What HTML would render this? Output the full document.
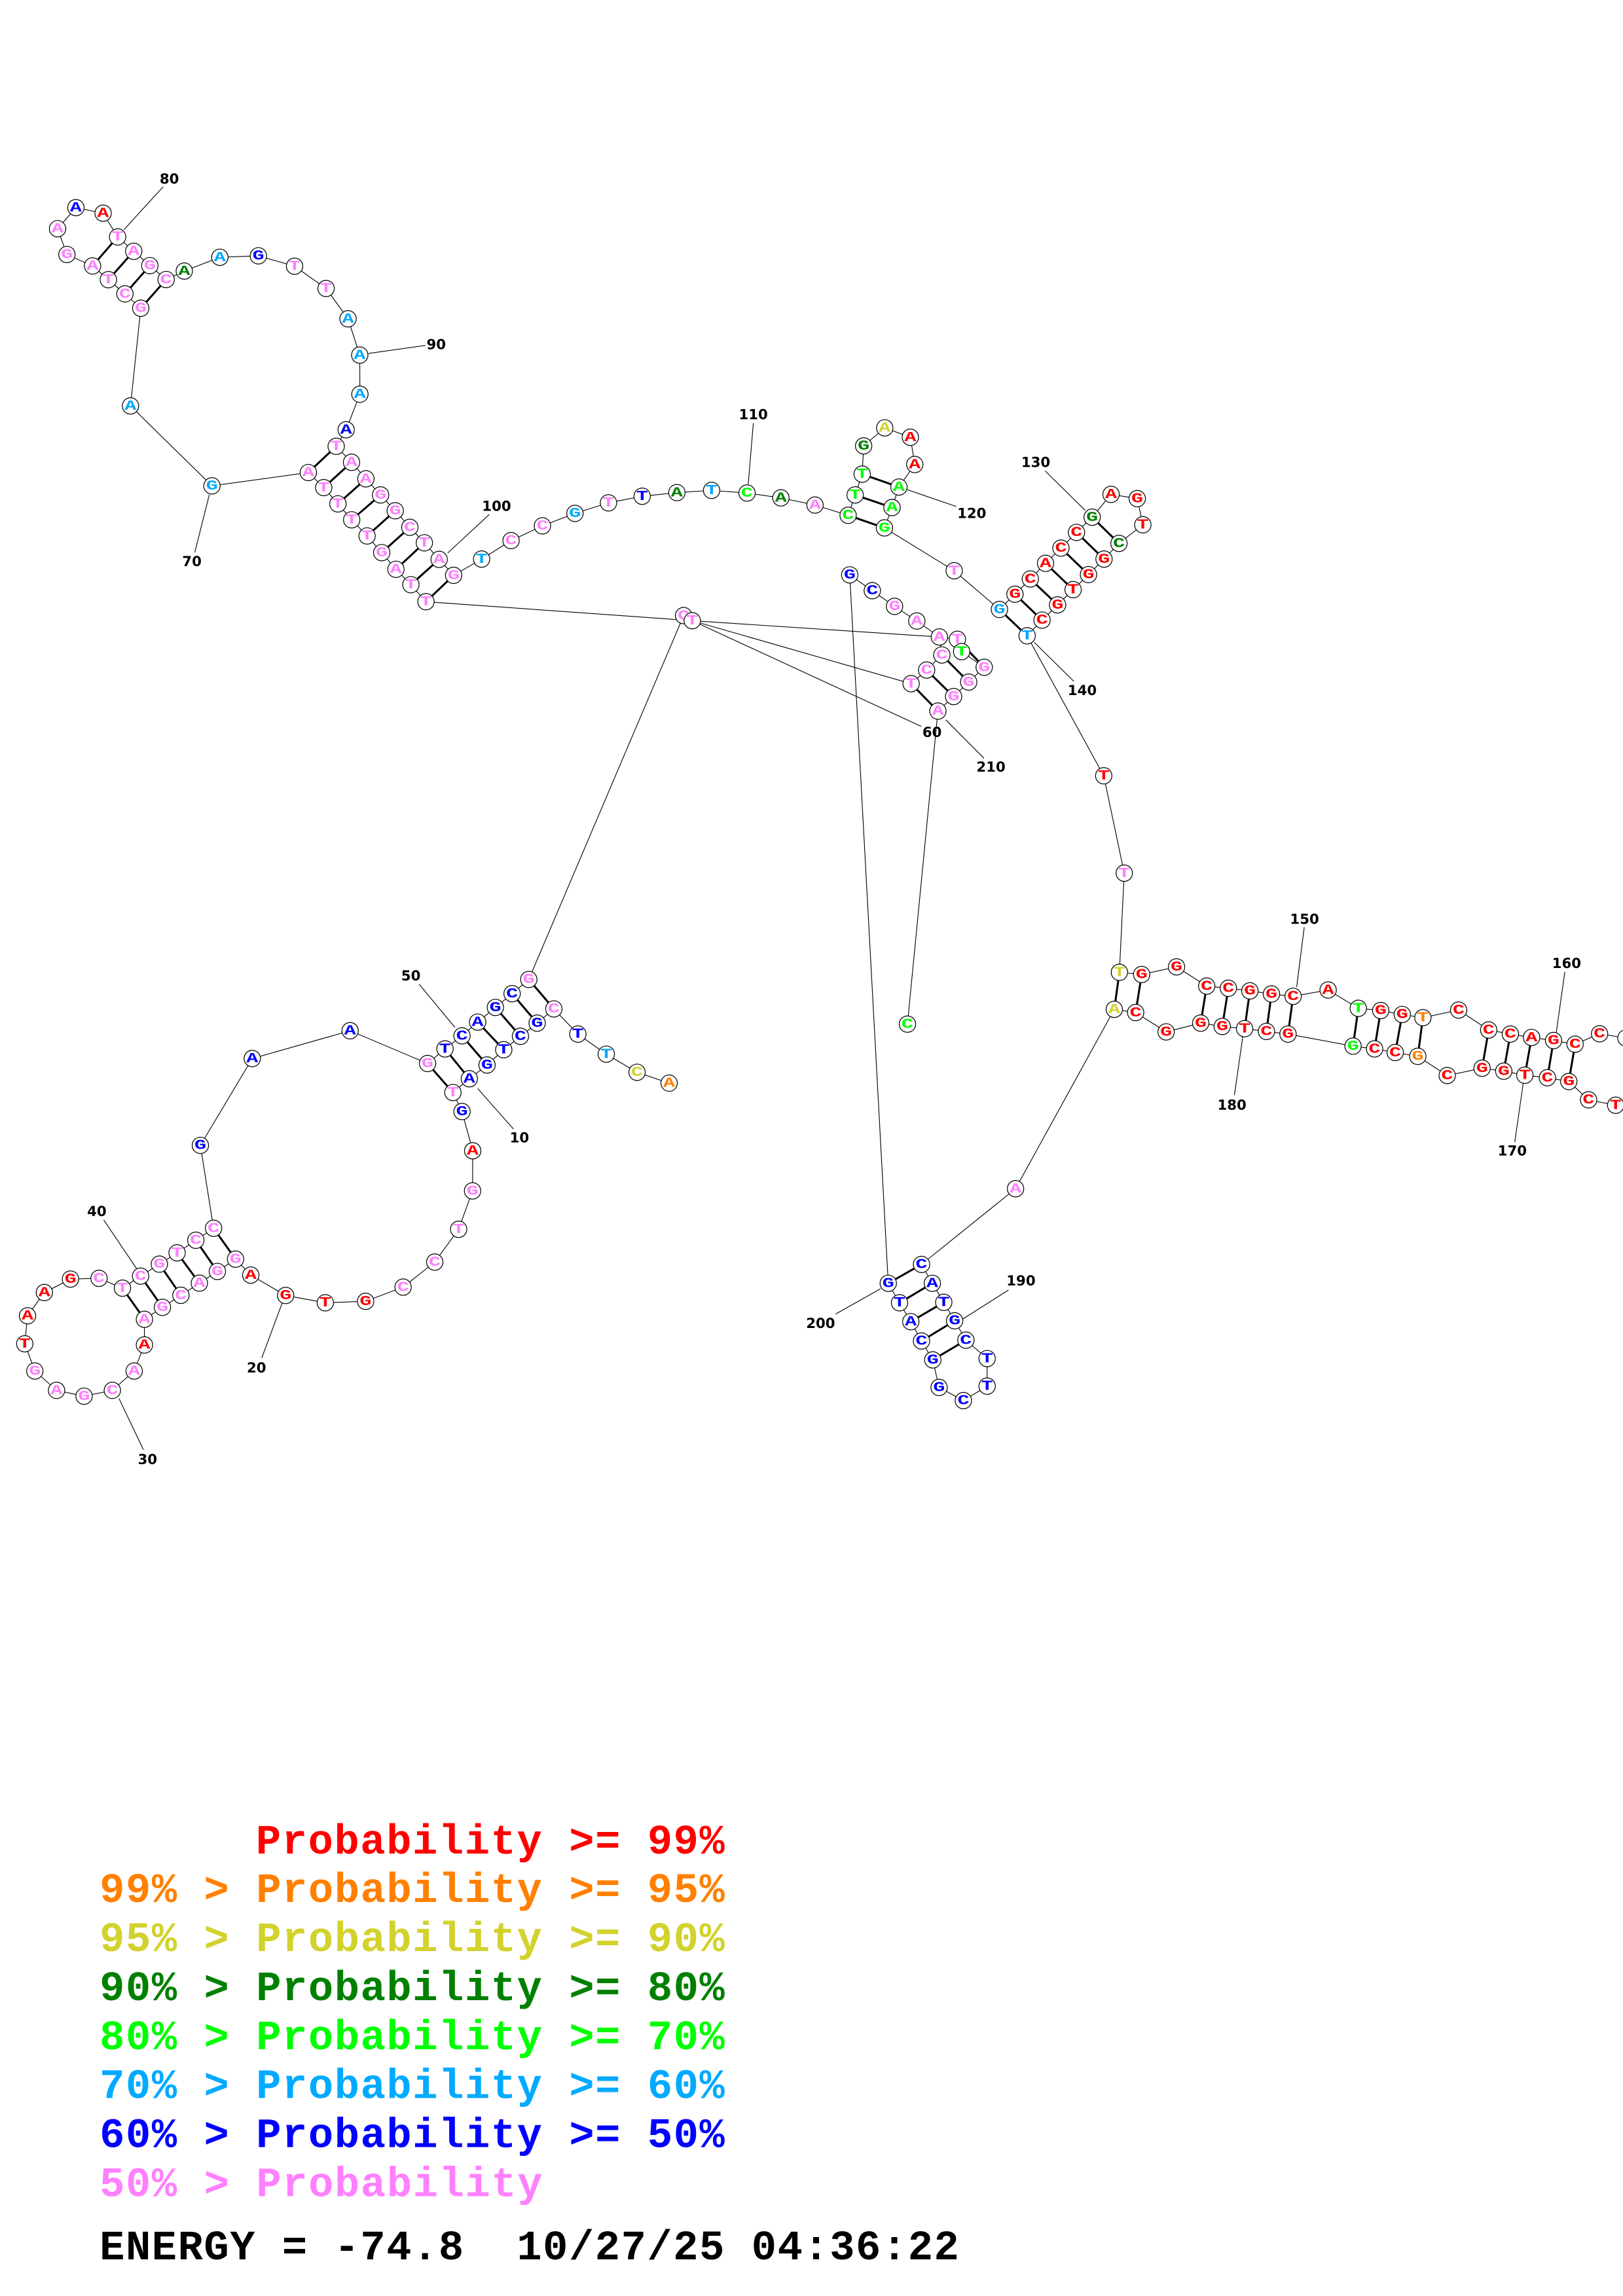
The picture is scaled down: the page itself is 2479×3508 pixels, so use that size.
<!DOCTYPE html>
<html><head><meta charset="utf-8"><style>
html,body{margin:0;padding:0;background:#fff;}
svg{display:block;}
.bb{fill:none;stroke:#000;stroke-width:0.5;}
.pr line{stroke:#000;stroke-width:1.35;}
.tk line{stroke:#000;stroke-width:0.5;}
.nd circle{fill:#fff;stroke:#000;stroke-width:0.55;}
.nd text{font-family:"Liberation Mono","DejaVu Sans Mono",monospace;font-weight:bold;font-size:9.6px;text-anchor:middle;dominant-baseline:central;transform-box:fill-box;transform-origin:center;transform:scaleX(1.4);}
.lb text{font-family:"DejaVu Sans","Liberation Sans",sans-serif;font-weight:bold;font-size:9.5px;text-anchor:middle;dominant-baseline:central;fill:#000;}
.lg text{font-family:"Liberation Mono","DejaVu Sans Mono",monospace;font-weight:bold;font-size:28.5px;white-space:pre;}
.r{fill:#ff0000}.o{fill:#ff8000}.y{fill:#d2d22d}.dg{fill:#008000}.g{fill:#00ff00}.lb2{fill:#00aaff}.b{fill:#0000ff}.p{fill:#ff80ff}.k{fill:#000}
</style></head><body>
<svg xmlns="http://www.w3.org/2000/svg" width="2479" height="3508" viewBox="0 0 1108 1568" preserveAspectRatio="none">
<rect x="0" y="0" width="1108" height="1568" fill="#fff"/>
<polyline class="bb" points="456.8,739.7 434.9,732.3 413.9,719.9 394.5,706.2 378.1,689 366.7,698.7 355.3,707.7 343.9,716.9 332.5,727.3 320.4,736.7 309.2,746.1 315.4,759.1 322.7,785.9 322.6,813.3 313.1,839.5 296.8,861.9 275.2,879 249.6,888.7 222.1,889.7 195,884.7 171.2,870.8 160.8,859.9 148.4,868.3 136.1,876.3 123.5,884.6 110.9,892.8 98.6,901 98.6,918.5 91.6,936.3 76.7,949.5 57.4,953.5 38.6,949.5 23.8,936.3 16.9,917.7 18.8,898.6 30.3,882.7 48.1,873.5 67.6,873 83.6,879.7 96,871.5 108.8,863.3 120.9,855.6 133.7,847 145.8,838.8 136.8,782.2 172.2,722.9 239,703.9 291.9,726.3 303.8,716.3 315.4,707.4 326.1,698 338.2,688 349.6,678.6 361,668.9 466.7,420.4"/>
<polyline class="bb" points="472.6,423.9 290.8,410.9 280.5,399.3 270.3,388.8 260.6,377.4 250.6,366 240.1,355 230.7,344.1 221,333 210.5,322.7 144.7,331.8 89.1,277.2 96.1,210.5 85.3,200.7 74,191 63.2,181.6 45.7,173.8 39.3,156.2 51.8,141.8 70.4,145.6 80.3,161.8 91.3,171.6 102.3,181.4 113.4,190.9 125.8,185.1 150.1,175.7 176.4,174.7 201.1,181.8 222.6,197 237.6,217.7 245.6,242.5 245.7,269.2 236.3,293.5 229.5,304.8 240,315.7 249.8,327 259.8,338 269.8,348.8 279.8,360.1 289.7,370.7 299.8,382 309.7,392.9 328.8,381.8 348.9,369.2 370.3,359.1 392.5,350.6 415.4,343.4 438.4,338.9 462.1,336.4 485.8,334.9 510,336.7 533.1,340 556.4,344.9 579,351.9 583.8,338 588.6,323.8 589.6,304.5 604,292.2 621.5,298.6 624.5,317.2 613.7,332.6 609,346.6 603.8,360.5 651.4,389.8 682.3,416.2 692.9,405.8 703.4,395.4 713.8,384.7 724.3,374.3 734.9,363.6 745.6,353.2 758.5,337.6 776.4,340.5 780.2,358.4 763.9,371.1 753.7,381.8 743.1,392.4 732.6,402.7 722,413.1 711.4,423.5 701.2,434.2 753.5,529.8 767.5,596.3 764.2,664 779.4,665.5 803.2,660.3 823.8,673.4 838.6,674.9 853.3,676.7 868,678.8 882.8,680.4 906.7,676.1 927.3,688.6 942.6,690.1 957.3,692.8 971.4,695 995.8,689.8 1016.3,703.4 1031.1,706.2 1045.6,708.5 1060.6,710.6 1075.3,713.1 1092,706 1110,708.9"/>
<polyline class="bb" points="1116,757 1103,754.8 1084.5,751.1 1071,738.6 1056.4,736 1041,734.3 1026.6,731.5 1011.8,729.5 988,734.5 967.9,721.4 952.5,718.8 938.4,716.3 923.7,714.4 879.3,706.2 864.6,704.4 849.7,702.5 834.4,701 819.7,698.7 796.1,704.7 775.3,691.5 760.7,689.3 693.3,811.8 629.1,863.5 636.5,876.4 644.3,889.4 651.7,902 659.4,915.2 673.9,927.8 673.9,946.6 657.7,956.5 641.1,947.5 636.8,928.7 629.1,915.8 621.8,902.6 614.1,889.7 606.4,876.4 580.1,392.6 595.5,403.4 610.7,414.1 625.9,424.1 641.3,435 643,447.3 632.6,457.6 622,466.9"/>
<polyline class="bb" points="641.3,435 653.6,436.6 656.5,445 671.9,455.7 661.3,465.8 651,475.7 640.3,485.6 619.5,699.4"/>
<g class="tk">
<line x1="472.6" y1="423.9" x2="641.3" y2="435"/>
<line x1="472.6" y1="423.9" x2="622" y2="466.9"/>
<line x1="472.6" y1="423.9" x2="629" y2="496.1"/>
<line x1="84.7" y1="156.8" x2="111.4" y2="127.5"/>
<line x1="251.5" y1="241.4" x2="290.4" y2="235.9"/>
<line x1="142.9" y1="337.8" x2="133" y2="377.2"/>
<line x1="334.1" y1="351.3" x2="305.6" y2="377.7"/>
<line x1="514.3" y1="289" x2="510.8" y2="330.7"/>
<line x1="619.4" y1="334.4" x2="652.8" y2="345.9"/>
<line x1="713.5" y1="321.6" x2="740.8" y2="348.5"/>
<line x1="706.1" y1="438.7" x2="733.1" y2="465.3"/>
<line x1="645.7" y1="491.6" x2="671.7" y2="517.8"/>
<line x1="890.4" y1="633.2" x2="885.2" y2="674.1"/>
<line x1="1068.3" y1="663.7" x2="1062.4" y2="705.4"/>
<line x1="848.6" y1="706.9" x2="842.7" y2="747.9"/>
<line x1="1040" y1="739" x2="1034.1" y2="780"/>
<line x1="688.5" y1="881" x2="656.8" y2="901.1"/>
<line x1="570.4" y1="897.4" x2="601.2" y2="880.1"/>
<line x1="286.2" y1="672.2" x2="310.6" y2="701.7"/>
<line x1="326.1" y1="743.4" x2="350.5" y2="771"/>
<line x1="70.8" y1="833.1" x2="93.2" y2="866.3"/>
<line x1="81.2" y1="955" x2="97.9" y2="990"/>
<line x1="192.8" y1="889.4" x2="178.7" y2="927.4"/>
</g>
<g class="pr">
<line x1="378.1" y1="689" x2="361" y2="668.9"/>
<line x1="366.7" y1="698.7" x2="349.6" y2="678.6"/>
<line x1="355.3" y1="707.7" x2="338.2" y2="688"/>
<line x1="343.9" y1="716.9" x2="326.1" y2="698"/>
<line x1="332.5" y1="727.3" x2="315.4" y2="707.4"/>
<line x1="320.4" y1="736.7" x2="303.8" y2="716.3"/>
<line x1="309.2" y1="746.1" x2="291.9" y2="726.3"/>
<line x1="145.8" y1="838.8" x2="160.8" y2="859.9"/>
<line x1="133.7" y1="847" x2="148.4" y2="868.3"/>
<line x1="120.9" y1="855.6" x2="136.1" y2="876.3"/>
<line x1="108.8" y1="863.3" x2="123.5" y2="884.6"/>
<line x1="96" y1="871.5" x2="110.9" y2="892.8"/>
<line x1="83.6" y1="879.7" x2="98.6" y2="901"/>
<line x1="229.5" y1="304.8" x2="210.5" y2="322.7"/>
<line x1="240" y1="315.7" x2="221" y2="333"/>
<line x1="249.8" y1="327" x2="230.7" y2="344.1"/>
<line x1="259.8" y1="338" x2="240.1" y2="355"/>
<line x1="269.8" y1="348.8" x2="250.6" y2="366"/>
<line x1="279.8" y1="360.1" x2="260.6" y2="377.4"/>
<line x1="289.7" y1="370.7" x2="270.3" y2="388.8"/>
<line x1="299.8" y1="382" x2="280.5" y2="399.3"/>
<line x1="309.7" y1="392.9" x2="290.8" y2="410.9"/>
<line x1="96.1" y1="210.5" x2="113.4" y2="190.9"/>
<line x1="85.3" y1="200.7" x2="102.3" y2="181.4"/>
<line x1="74" y1="191" x2="91.3" y2="171.6"/>
<line x1="63.2" y1="181.6" x2="80.3" y2="161.8"/>
<line x1="579" y1="351.9" x2="603.8" y2="360.5"/>
<line x1="583.8" y1="338" x2="609" y2="346.6"/>
<line x1="588.6" y1="323.8" x2="613.7" y2="332.6"/>
<line x1="682.3" y1="416.2" x2="701.2" y2="434.2"/>
<line x1="692.9" y1="405.8" x2="711.4" y2="423.5"/>
<line x1="703.4" y1="395.4" x2="722" y2="413.1"/>
<line x1="713.8" y1="384.7" x2="732.6" y2="402.7"/>
<line x1="724.3" y1="374.3" x2="743.1" y2="392.4"/>
<line x1="734.9" y1="363.6" x2="753.7" y2="381.8"/>
<line x1="745.6" y1="353.2" x2="763.9" y2="371.1"/>
<line x1="764.2" y1="664" x2="760.7" y2="689.3"/>
<line x1="779.4" y1="665.5" x2="775.3" y2="691.5"/>
<line x1="823.8" y1="673.4" x2="819.7" y2="698.7"/>
<line x1="838.6" y1="674.9" x2="834.4" y2="701"/>
<line x1="853.3" y1="676.7" x2="849.7" y2="702.5"/>
<line x1="868" y1="678.8" x2="864.6" y2="704.4"/>
<line x1="882.8" y1="680.4" x2="879.3" y2="706.2"/>
<line x1="927.3" y1="688.6" x2="923.7" y2="714.4"/>
<line x1="942.6" y1="690.1" x2="938.4" y2="716.3"/>
<line x1="957.3" y1="692.8" x2="952.5" y2="718.8"/>
<line x1="971.4" y1="695" x2="967.9" y2="721.4"/>
<line x1="1016.3" y1="703.4" x2="1011.8" y2="729.5"/>
<line x1="1031.1" y1="706.2" x2="1026.6" y2="731.5"/>
<line x1="1045.6" y1="708.5" x2="1041" y2="734.3"/>
<line x1="1060.6" y1="710.6" x2="1056.4" y2="736"/>
<line x1="1075.3" y1="713.1" x2="1071" y2="738.6"/>
<line x1="629.1" y1="863.5" x2="606.4" y2="876.4"/>
<line x1="636.5" y1="876.4" x2="614.1" y2="889.7"/>
<line x1="644.3" y1="889.4" x2="621.8" y2="902.6"/>
<line x1="651.7" y1="902" x2="629.1" y2="915.8"/>
<line x1="659.4" y1="915.2" x2="636.8" y2="928.7"/>
<line x1="622" y1="466.9" x2="640.3" y2="485.6"/>
<line x1="632.6" y1="457.6" x2="651" y2="475.7"/>
<line x1="643" y1="447.3" x2="661.3" y2="465.8"/>
<line x1="653.6" y1="436.6" x2="671.9" y2="455.7"/>
</g>
<g class="nd">
<circle cx="456.8" cy="739.7" r="5.6"/><text x="456.8" y="739.7" class="o">A</text>
<circle cx="434.9" cy="732.3" r="5.6"/><text x="434.9" y="732.3" class="y">C</text>
<circle cx="413.9" cy="719.9" r="5.6"/><text x="413.9" y="719.9" class="lb2">T</text>
<circle cx="394.5" cy="706.2" r="5.6"/><text x="394.5" y="706.2" class="b">T</text>
<circle cx="378.1" cy="689" r="5.6"/><text x="378.1" y="689" class="p">C</text>
<circle cx="366.7" cy="698.7" r="5.6"/><text x="366.7" y="698.7" class="b">G</text>
<circle cx="355.3" cy="707.7" r="5.6"/><text x="355.3" y="707.7" class="b">C</text>
<circle cx="343.9" cy="716.9" r="5.6"/><text x="343.9" y="716.9" class="b">T</text>
<circle cx="332.5" cy="727.3" r="5.6"/><text x="332.5" y="727.3" class="b">G</text>
<circle cx="320.4" cy="736.7" r="5.6"/><text x="320.4" y="736.7" class="b">A</text>
<circle cx="309.2" cy="746.1" r="5.6"/><text x="309.2" y="746.1" class="p">T</text>
<circle cx="315.4" cy="759.1" r="5.6"/><text x="315.4" y="759.1" class="b">G</text>
<circle cx="322.7" cy="785.9" r="5.6"/><text x="322.7" y="785.9" class="r">A</text>
<circle cx="322.6" cy="813.3" r="5.6"/><text x="322.6" y="813.3" class="p">G</text>
<circle cx="313.1" cy="839.5" r="5.6"/><text x="313.1" y="839.5" class="p">T</text>
<circle cx="296.8" cy="861.9" r="5.6"/><text x="296.8" y="861.9" class="p">C</text>
<circle cx="275.2" cy="879" r="5.6"/><text x="275.2" y="879" class="p">C</text>
<circle cx="249.6" cy="888.7" r="5.6"/><text x="249.6" y="888.7" class="r">G</text>
<circle cx="222.1" cy="889.7" r="5.6"/><text x="222.1" y="889.7" class="r">T</text>
<circle cx="195" cy="884.7" r="5.6"/><text x="195" y="884.7" class="r">G</text>
<circle cx="171.2" cy="870.8" r="5.6"/><text x="171.2" y="870.8" class="r">A</text>
<circle cx="160.8" cy="859.9" r="5.6"/><text x="160.8" y="859.9" class="p">G</text>
<circle cx="148.4" cy="868.3" r="5.6"/><text x="148.4" y="868.3" class="p">G</text>
<circle cx="136.1" cy="876.3" r="5.6"/><text x="136.1" y="876.3" class="p">A</text>
<circle cx="123.5" cy="884.6" r="5.6"/><text x="123.5" y="884.6" class="p">C</text>
<circle cx="110.9" cy="892.8" r="5.6"/><text x="110.9" y="892.8" class="p">G</text>
<circle cx="98.6" cy="901" r="5.6"/><text x="98.6" y="901" class="p">A</text>
<circle cx="98.6" cy="918.5" r="5.6"/><text x="98.6" y="918.5" class="r">A</text>
<circle cx="91.6" cy="936.3" r="5.6"/><text x="91.6" y="936.3" class="p">A</text>
<circle cx="76.7" cy="949.5" r="5.6"/><text x="76.7" y="949.5" class="p">C</text>
<circle cx="57.4" cy="953.5" r="5.6"/><text x="57.4" y="953.5" class="p">G</text>
<circle cx="38.6" cy="949.5" r="5.6"/><text x="38.6" y="949.5" class="p">A</text>
<circle cx="23.8" cy="936.3" r="5.6"/><text x="23.8" y="936.3" class="p">G</text>
<circle cx="16.9" cy="917.7" r="5.6"/><text x="16.9" y="917.7" class="r">T</text>
<circle cx="18.8" cy="898.6" r="5.6"/><text x="18.8" y="898.6" class="r">A</text>
<circle cx="30.3" cy="882.7" r="5.6"/><text x="30.3" y="882.7" class="r">A</text>
<circle cx="48.1" cy="873.5" r="5.6"/><text x="48.1" y="873.5" class="r">G</text>
<circle cx="67.6" cy="873" r="5.6"/><text x="67.6" y="873" class="p">C</text>
<circle cx="83.6" cy="879.7" r="5.6"/><text x="83.6" y="879.7" class="p">T</text>
<circle cx="96" cy="871.5" r="5.6"/><text x="96" y="871.5" class="p">C</text>
<circle cx="108.8" cy="863.3" r="5.6"/><text x="108.8" y="863.3" class="p">G</text>
<circle cx="120.9" cy="855.6" r="5.6"/><text x="120.9" y="855.6" class="p">T</text>
<circle cx="133.7" cy="847" r="5.6"/><text x="133.7" y="847" class="p">C</text>
<circle cx="145.8" cy="838.8" r="5.6"/><text x="145.8" y="838.8" class="p">C</text>
<circle cx="136.8" cy="782.2" r="5.6"/><text x="136.8" y="782.2" class="b">G</text>
<circle cx="172.2" cy="722.9" r="5.6"/><text x="172.2" y="722.9" class="b">A</text>
<circle cx="239" cy="703.9" r="5.6"/><text x="239" y="703.9" class="b">A</text>
<circle cx="291.9" cy="726.3" r="5.6"/><text x="291.9" y="726.3" class="p">G</text>
<circle cx="303.8" cy="716.3" r="5.6"/><text x="303.8" y="716.3" class="b">T</text>
<circle cx="315.4" cy="707.4" r="5.6"/><text x="315.4" y="707.4" class="b">C</text>
<circle cx="326.1" cy="698" r="5.6"/><text x="326.1" y="698" class="b">A</text>
<circle cx="338.2" cy="688" r="5.6"/><text x="338.2" y="688" class="b">G</text>
<circle cx="349.6" cy="678.6" r="5.6"/><text x="349.6" y="678.6" class="b">C</text>
<circle cx="361" cy="668.9" r="5.6"/><text x="361" y="668.9" class="p">G</text>
<circle cx="466.7" cy="420.4" r="5.6"/><text x="466.7" y="420.4" class="p">C</text>
<circle cx="472.6" cy="423.9" r="5.6"/><text x="472.6" y="423.9" class="p">T</text>
<circle cx="290.8" cy="410.9" r="5.6"/><text x="290.8" y="410.9" class="p">T</text>
<circle cx="280.5" cy="399.3" r="5.6"/><text x="280.5" y="399.3" class="p">T</text>
<circle cx="270.3" cy="388.8" r="5.6"/><text x="270.3" y="388.8" class="p">A</text>
<circle cx="260.6" cy="377.4" r="5.6"/><text x="260.6" y="377.4" class="p">G</text>
<circle cx="250.6" cy="366" r="5.6"/><text x="250.6" y="366" class="p">T</text>
<circle cx="240.1" cy="355" r="5.6"/><text x="240.1" y="355" class="p">T</text>
<circle cx="230.7" cy="344.1" r="5.6"/><text x="230.7" y="344.1" class="p">T</text>
<circle cx="221" cy="333" r="5.6"/><text x="221" y="333" class="p">T</text>
<circle cx="210.5" cy="322.7" r="5.6"/><text x="210.5" y="322.7" class="p">A</text>
<circle cx="144.7" cy="331.8" r="5.6"/><text x="144.7" y="331.8" class="lb2">G</text>
<circle cx="89.1" cy="277.2" r="5.6"/><text x="89.1" y="277.2" class="lb2">A</text>
<circle cx="96.1" cy="210.5" r="5.6"/><text x="96.1" y="210.5" class="p">G</text>
<circle cx="85.3" cy="200.7" r="5.6"/><text x="85.3" y="200.7" class="p">C</text>
<circle cx="74" cy="191" r="5.6"/><text x="74" y="191" class="p">T</text>
<circle cx="63.2" cy="181.6" r="5.6"/><text x="63.2" y="181.6" class="p">A</text>
<circle cx="45.7" cy="173.8" r="5.6"/><text x="45.7" y="173.8" class="p">G</text>
<circle cx="39.3" cy="156.2" r="5.6"/><text x="39.3" y="156.2" class="p">A</text>
<circle cx="51.8" cy="141.8" r="5.6"/><text x="51.8" y="141.8" class="b">A</text>
<circle cx="70.4" cy="145.6" r="5.6"/><text x="70.4" y="145.6" class="r">A</text>
<circle cx="80.3" cy="161.8" r="5.6"/><text x="80.3" y="161.8" class="p">T</text>
<circle cx="91.3" cy="171.6" r="5.6"/><text x="91.3" y="171.6" class="p">A</text>
<circle cx="102.3" cy="181.4" r="5.6"/><text x="102.3" y="181.4" class="p">G</text>
<circle cx="113.4" cy="190.9" r="5.6"/><text x="113.4" y="190.9" class="p">C</text>
<circle cx="125.8" cy="185.1" r="5.6"/><text x="125.8" y="185.1" class="dg">A</text>
<circle cx="150.1" cy="175.7" r="5.6"/><text x="150.1" y="175.7" class="lb2">A</text>
<circle cx="176.4" cy="174.7" r="5.6"/><text x="176.4" y="174.7" class="b">G</text>
<circle cx="201.1" cy="181.8" r="5.6"/><text x="201.1" y="181.8" class="p">T</text>
<circle cx="222.6" cy="197" r="5.6"/><text x="222.6" y="197" class="p">T</text>
<circle cx="237.6" cy="217.7" r="5.6"/><text x="237.6" y="217.7" class="lb2">A</text>
<circle cx="245.6" cy="242.5" r="5.6"/><text x="245.6" y="242.5" class="lb2">A</text>
<circle cx="245.7" cy="269.2" r="5.6"/><text x="245.7" y="269.2" class="lb2">A</text>
<circle cx="236.3" cy="293.5" r="5.6"/><text x="236.3" y="293.5" class="b">A</text>
<circle cx="229.5" cy="304.8" r="5.6"/><text x="229.5" y="304.8" class="p">T</text>
<circle cx="240" cy="315.7" r="5.6"/><text x="240" y="315.7" class="p">A</text>
<circle cx="249.8" cy="327" r="5.6"/><text x="249.8" y="327" class="p">A</text>
<circle cx="259.8" cy="338" r="5.6"/><text x="259.8" y="338" class="p">G</text>
<circle cx="269.8" cy="348.8" r="5.6"/><text x="269.8" y="348.8" class="p">G</text>
<circle cx="279.8" cy="360.1" r="5.6"/><text x="279.8" y="360.1" class="p">C</text>
<circle cx="289.7" cy="370.7" r="5.6"/><text x="289.7" y="370.7" class="p">T</text>
<circle cx="299.8" cy="382" r="5.6"/><text x="299.8" y="382" class="p">A</text>
<circle cx="309.7" cy="392.9" r="5.6"/><text x="309.7" y="392.9" class="p">G</text>
<circle cx="328.8" cy="381.8" r="5.6"/><text x="328.8" y="381.8" class="lb2">T</text>
<circle cx="348.9" cy="369.2" r="5.6"/><text x="348.9" y="369.2" class="p">C</text>
<circle cx="370.3" cy="359.1" r="5.6"/><text x="370.3" y="359.1" class="p">C</text>
<circle cx="392.5" cy="350.6" r="5.6"/><text x="392.5" y="350.6" class="lb2">G</text>
<circle cx="415.4" cy="343.4" r="5.6"/><text x="415.4" y="343.4" class="p">T</text>
<circle cx="438.4" cy="338.9" r="5.6"/><text x="438.4" y="338.9" class="b">T</text>
<circle cx="462.1" cy="336.4" r="5.6"/><text x="462.1" y="336.4" class="dg">A</text>
<circle cx="485.8" cy="334.9" r="5.6"/><text x="485.8" y="334.9" class="lb2">T</text>
<circle cx="510" cy="336.7" r="5.6"/><text x="510" y="336.7" class="g">C</text>
<circle cx="533.1" cy="340" r="5.6"/><text x="533.1" y="340" class="dg">A</text>
<circle cx="556.4" cy="344.9" r="5.6"/><text x="556.4" y="344.9" class="p">A</text>
<circle cx="579" cy="351.9" r="5.6"/><text x="579" y="351.9" class="g">C</text>
<circle cx="583.8" cy="338" r="5.6"/><text x="583.8" y="338" class="g">T</text>
<circle cx="588.6" cy="323.8" r="5.6"/><text x="588.6" y="323.8" class="g">T</text>
<circle cx="589.6" cy="304.5" r="5.6"/><text x="589.6" y="304.5" class="dg">G</text>
<circle cx="604" cy="292.2" r="5.6"/><text x="604" y="292.2" class="y">A</text>
<circle cx="621.5" cy="298.6" r="5.6"/><text x="621.5" y="298.6" class="r">A</text>
<circle cx="624.5" cy="317.2" r="5.6"/><text x="624.5" y="317.2" class="r">A</text>
<circle cx="613.7" cy="332.6" r="5.6"/><text x="613.7" y="332.6" class="g">A</text>
<circle cx="609" cy="346.6" r="5.6"/><text x="609" y="346.6" class="g">A</text>
<circle cx="603.8" cy="360.5" r="5.6"/><text x="603.8" y="360.5" class="g">G</text>
<circle cx="651.4" cy="389.8" r="5.6"/><text x="651.4" y="389.8" class="p">T</text>
<circle cx="682.3" cy="416.2" r="5.6"/><text x="682.3" y="416.2" class="lb2">G</text>
<circle cx="692.9" cy="405.8" r="5.6"/><text x="692.9" y="405.8" class="r">G</text>
<circle cx="703.4" cy="395.4" r="5.6"/><text x="703.4" y="395.4" class="r">C</text>
<circle cx="713.8" cy="384.7" r="5.6"/><text x="713.8" y="384.7" class="r">A</text>
<circle cx="724.3" cy="374.3" r="5.6"/><text x="724.3" y="374.3" class="r">C</text>
<circle cx="734.9" cy="363.6" r="5.6"/><text x="734.9" y="363.6" class="r">C</text>
<circle cx="745.6" cy="353.2" r="5.6"/><text x="745.6" y="353.2" class="dg">G</text>
<circle cx="758.5" cy="337.6" r="5.6"/><text x="758.5" y="337.6" class="r">A</text>
<circle cx="776.4" cy="340.5" r="5.6"/><text x="776.4" y="340.5" class="r">G</text>
<circle cx="780.2" cy="358.4" r="5.6"/><text x="780.2" y="358.4" class="r">T</text>
<circle cx="763.9" cy="371.1" r="5.6"/><text x="763.9" y="371.1" class="dg">C</text>
<circle cx="753.7" cy="381.8" r="5.6"/><text x="753.7" y="381.8" class="r">G</text>
<circle cx="743.1" cy="392.4" r="5.6"/><text x="743.1" y="392.4" class="r">G</text>
<circle cx="732.6" cy="402.7" r="5.6"/><text x="732.6" y="402.7" class="r">T</text>
<circle cx="722" cy="413.1" r="5.6"/><text x="722" y="413.1" class="r">G</text>
<circle cx="711.4" cy="423.5" r="5.6"/><text x="711.4" y="423.5" class="r">C</text>
<circle cx="701.2" cy="434.2" r="5.6"/><text x="701.2" y="434.2" class="lb2">T</text>
<circle cx="753.5" cy="529.8" r="5.6"/><text x="753.5" y="529.8" class="r">T</text>
<circle cx="767.5" cy="596.3" r="5.6"/><text x="767.5" y="596.3" class="p">T</text>
<circle cx="764.2" cy="664" r="5.6"/><text x="764.2" y="664" class="y">T</text>
<circle cx="779.4" cy="665.5" r="5.6"/><text x="779.4" y="665.5" class="r">G</text>
<circle cx="803.2" cy="660.3" r="5.6"/><text x="803.2" y="660.3" class="r">G</text>
<circle cx="823.8" cy="673.4" r="5.6"/><text x="823.8" y="673.4" class="r">C</text>
<circle cx="838.6" cy="674.9" r="5.6"/><text x="838.6" y="674.9" class="r">C</text>
<circle cx="853.3" cy="676.7" r="5.6"/><text x="853.3" y="676.7" class="r">G</text>
<circle cx="868" cy="678.8" r="5.6"/><text x="868" y="678.8" class="r">G</text>
<circle cx="882.8" cy="680.4" r="5.6"/><text x="882.8" y="680.4" class="r">C</text>
<circle cx="906.7" cy="676.1" r="5.6"/><text x="906.7" y="676.1" class="r">A</text>
<circle cx="927.3" cy="688.6" r="5.6"/><text x="927.3" y="688.6" class="g">T</text>
<circle cx="942.6" cy="690.1" r="5.6"/><text x="942.6" y="690.1" class="r">G</text>
<circle cx="957.3" cy="692.8" r="5.6"/><text x="957.3" y="692.8" class="r">G</text>
<circle cx="971.4" cy="695" r="5.6"/><text x="971.4" y="695" class="o">T</text>
<circle cx="995.8" cy="689.8" r="5.6"/><text x="995.8" y="689.8" class="r">C</text>
<circle cx="1016.3" cy="703.4" r="5.6"/><text x="1016.3" y="703.4" class="r">C</text>
<circle cx="1031.1" cy="706.2" r="5.6"/><text x="1031.1" y="706.2" class="r">C</text>
<circle cx="1045.6" cy="708.5" r="5.6"/><text x="1045.6" y="708.5" class="r">A</text>
<circle cx="1060.6" cy="710.6" r="5.6"/><text x="1060.6" y="710.6" class="r">G</text>
<circle cx="1075.3" cy="713.1" r="5.6"/><text x="1075.3" y="713.1" class="r">C</text>
<circle cx="1092" cy="706" r="5.6"/><text x="1092" y="706" class="r">C</text>
<circle cx="1110" cy="708.9" r="5.6"/>
<circle cx="1103" cy="754.8" r="5.6"/><text x="1103" y="754.8" class="r">T</text>
<circle cx="1084.5" cy="751.1" r="5.6"/><text x="1084.5" y="751.1" class="r">C</text>
<circle cx="1071" cy="738.6" r="5.6"/><text x="1071" y="738.6" class="r">G</text>
<circle cx="1056.4" cy="736" r="5.6"/><text x="1056.4" y="736" class="r">C</text>
<circle cx="1041" cy="734.3" r="5.6"/><text x="1041" y="734.3" class="r">T</text>
<circle cx="1026.6" cy="731.5" r="5.6"/><text x="1026.6" y="731.5" class="r">G</text>
<circle cx="1011.8" cy="729.5" r="5.6"/><text x="1011.8" y="729.5" class="r">G</text>
<circle cx="988" cy="734.5" r="5.6"/><text x="988" y="734.5" class="r">C</text>
<circle cx="967.9" cy="721.4" r="5.6"/><text x="967.9" y="721.4" class="o">G</text>
<circle cx="952.5" cy="718.8" r="5.6"/><text x="952.5" y="718.8" class="r">C</text>
<circle cx="938.4" cy="716.3" r="5.6"/><text x="938.4" y="716.3" class="r">C</text>
<circle cx="923.7" cy="714.4" r="5.6"/><text x="923.7" y="714.4" class="g">G</text>
<circle cx="879.3" cy="706.2" r="5.6"/><text x="879.3" y="706.2" class="r">G</text>
<circle cx="864.6" cy="704.4" r="5.6"/><text x="864.6" y="704.4" class="r">C</text>
<circle cx="849.7" cy="702.5" r="5.6"/><text x="849.7" y="702.5" class="r">T</text>
<circle cx="834.4" cy="701" r="5.6"/><text x="834.4" y="701" class="r">G</text>
<circle cx="819.7" cy="698.7" r="5.6"/><text x="819.7" y="698.7" class="r">G</text>
<circle cx="796.1" cy="704.7" r="5.6"/><text x="796.1" y="704.7" class="r">G</text>
<circle cx="775.3" cy="691.5" r="5.6"/><text x="775.3" y="691.5" class="r">C</text>
<circle cx="760.7" cy="689.3" r="5.6"/><text x="760.7" y="689.3" class="y">A</text>
<circle cx="693.3" cy="811.8" r="5.6"/><text x="693.3" y="811.8" class="p">A</text>
<circle cx="629.1" cy="863.5" r="5.6"/><text x="629.1" y="863.5" class="b">C</text>
<circle cx="636.5" cy="876.4" r="5.6"/><text x="636.5" y="876.4" class="b">A</text>
<circle cx="644.3" cy="889.4" r="5.6"/><text x="644.3" y="889.4" class="b">T</text>
<circle cx="651.7" cy="902" r="5.6"/><text x="651.7" y="902" class="b">G</text>
<circle cx="659.4" cy="915.2" r="5.6"/><text x="659.4" y="915.2" class="b">C</text>
<circle cx="673.9" cy="927.8" r="5.6"/><text x="673.9" y="927.8" class="b">T</text>
<circle cx="673.9" cy="946.6" r="5.6"/><text x="673.9" y="946.6" class="b">T</text>
<circle cx="657.7" cy="956.5" r="5.6"/><text x="657.7" y="956.5" class="b">C</text>
<circle cx="641.1" cy="947.5" r="5.6"/><text x="641.1" y="947.5" class="b">G</text>
<circle cx="636.8" cy="928.7" r="5.6"/><text x="636.8" y="928.7" class="b">G</text>
<circle cx="629.1" cy="915.8" r="5.6"/><text x="629.1" y="915.8" class="b">C</text>
<circle cx="621.8" cy="902.6" r="5.6"/><text x="621.8" y="902.6" class="b">A</text>
<circle cx="614.1" cy="889.7" r="5.6"/><text x="614.1" y="889.7" class="b">T</text>
<circle cx="606.4" cy="876.4" r="5.6"/><text x="606.4" y="876.4" class="b">G</text>
<circle cx="580.1" cy="392.6" r="5.6"/><text x="580.1" y="392.6" class="b">G</text>
<circle cx="595.5" cy="403.4" r="5.6"/><text x="595.5" y="403.4" class="b">C</text>
<circle cx="610.7" cy="414.1" r="5.6"/><text x="610.7" y="414.1" class="p">G</text>
<circle cx="625.9" cy="424.1" r="5.6"/><text x="625.9" y="424.1" class="p">A</text>
<circle cx="653.6" cy="436.6" r="5.6"/><text x="653.6" y="436.6" class="p">T</text>
<circle cx="641.3" cy="435" r="5.6"/><text x="641.3" y="435" class="p">A</text>
<circle cx="656.5" cy="445" r="5.6"/><text x="656.5" y="445" class="g">T</text>
<circle cx="643" cy="447.3" r="5.6"/><text x="643" y="447.3" class="p">C</text>
<circle cx="671.9" cy="455.7" r="5.6"/><text x="671.9" y="455.7" class="p">G</text>
<circle cx="632.6" cy="457.6" r="5.6"/><text x="632.6" y="457.6" class="p">C</text>
<circle cx="661.3" cy="465.8" r="5.6"/><text x="661.3" y="465.8" class="p">G</text>
<circle cx="622" cy="466.9" r="5.6"/><text x="622" y="466.9" class="p">T</text>
<circle cx="651" cy="475.7" r="5.6"/><text x="651" y="475.7" class="p">G</text>
<circle cx="640.3" cy="485.6" r="5.6"/><text x="640.3" y="485.6" class="p">A</text>
<circle cx="619.5" cy="699.4" r="5.6"/><text x="619.5" y="699.4" class="g">C</text>
</g>
<g class="lb">
<text x="115.6" y="122.5">80</text>
<text x="297.8" y="235.5">90</text>
<text x="131" y="383.7">70</text>
<text x="339" y="345.9">100</text>
<text x="514.3" y="283.5">110</text>
<text x="663.4" y="350.9">120</text>
<text x="707.1" y="316.1">130</text>
<text x="738.8" y="471.7">140</text>
<text x="636.3" y="500.3">60</text>
<text x="676.5" y="524">210</text>
<text x="890.6" y="628">150</text>
<text x="1069.5" y="658.2">160</text>
<text x="841" y="755">180</text>
<text x="1032.4" y="786.3">170</text>
<text x="697" y="874.9">190</text>
<text x="560.2" y="904.1">200</text>
<text x="280.5" y="666.7">50</text>
<text x="354.6" y="777.4">10</text>
<text x="66.1" y="827.6">40</text>
<text x="100.7" y="997">30</text>
<text x="175.1" y="934.4">20</text>
</g>
<g class="lg">
<text x="174.7" y="1265.9" class="r" textLength="320">Probability &gt;= 99%</text>
<text x="68" y="1299" class="o" textLength="426.7">99% &gt; Probability &gt;= 95%</text>
<text x="68" y="1332.4" class="y" textLength="426.7">95% &gt; Probability &gt;= 90%</text>
<text x="68" y="1365.9" class="dg" textLength="426.7">90% &gt; Probability &gt;= 80%</text>
<text x="68" y="1399.4" class="g" textLength="426.7">80% &gt; Probability &gt;= 70%</text>
<text x="68" y="1432.9" class="lb2" textLength="426.7">70% &gt; Probability &gt;= 60%</text>
<text x="68" y="1466.4" class="b" textLength="426.7">60% &gt; Probability &gt;= 50%</text>
<text x="68" y="1499.9" class="p" textLength="302.3">50% &gt; Probability</text>
<text x="68" y="1542.9" class="k" textLength="586.7" xml:space="preserve">ENERGY = -74.8  10/27/25 04:36:22</text>
</g>
</svg>
</body></html>
